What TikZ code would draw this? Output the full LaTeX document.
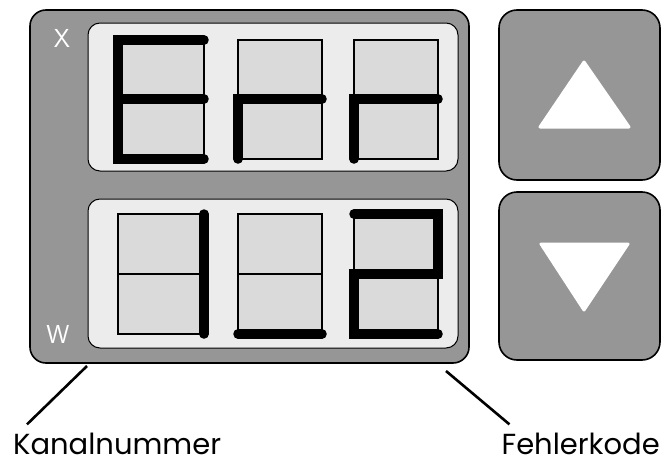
\documentclass[tikz,border=0pt]{standalone}
\usepackage{fontspec}
\usepackage{tikz}
\usetikzlibrary{positioning,calc}
\newfontfamily\labelfont{Poppins}
\definecolor{panelGray}{RGB}{150,150,150}
\definecolor{windowGray}{RGB}{236,236,236}
\definecolor{cellGray}{RGB}{218,218,218}

\begin{document}
\begin{tikzpicture}[x=1pt, y=-1pt,
  panel/.style={draw=black, line width=1.6pt, fill=panelGray, rounded corners=16pt},
  window/.style={draw=black, line width=1pt, fill=windowGray, rounded corners=12pt},
  cell/.style={draw=black, line width=1.1pt, fill=cellGray},
  seg/.style={line width=9.5pt, line cap=round},
  key/.style={draw=black, line width=1.6pt, fill=panelGray, rounded corners=18pt},
  arrowtri/.style={fill=white, draw=white, line width=3pt, line join=round},
  lead/.style={line width=2.6pt},
  caption/.style={font=\labelfont\fontsize{29}{29}\selectfont, inner sep=0pt},
  chan/.style={font=\sffamily\fontsize{26}{26}\selectfont, text=white, inner sep=0pt},
]
\useasboundingbox (0,0) rectangle (662,466);

% Display panel
\draw[panel] (30,10) rectangle (469,363);
\draw[window] (88,23) rectangle (458,171);
\draw[window] (88,199) rectangle (458,348);
\node[chan] (chx) at (62,38) {X};
\node[chan] (chw) at (58,334) {W};

% Digit cells
\foreach \xa/\xb in {118/204, 238/322, 354/438} {
  \draw[cell] (\xa,40) rectangle (\xb,99);
  \draw[cell] (\xa,99) rectangle (\xb,159);
  \draw[cell] (\xa,214) rectangle (\xb,274);
  \draw[cell] (\xa,274) rectangle (\xb,334);
}

% Upper row: Err
\draw[seg] (204,40) -- (118,40) -- (118,159) -- (204,159);
\draw[seg] (118,99) -- (204,99);
\draw[seg] (322,99) -- (238,99) -- (238,159);
\draw[seg] (438,99) -- (354,99) -- (354,159);

% Lower row: 12
\draw[seg] (204,214) -- (204,334);
\draw[seg] (238,334) -- (322,334);
\draw[seg] (354,214) -- (438,214) -- (438,274) -- (354,274) -- (354,334) -- (438,334);

% Keys
\draw[key] (499,10) rectangle (660,180);
\draw[key] (499,192) rectangle (660,360);
\draw[arrowtri] (584,62) -- (629,127) -- (540,127) -- cycle;
\draw[arrowtri] (541,244) -- (628,244) -- (584,310) -- cycle;

% Labels
\node[caption, anchor=base west] (kanal) at (13,454) {Kanalnummer};
\node[caption, anchor=base east] (fehler) at (660,454) {Fehlerkode};
\coordinate (kanalTip) at (87,366);
\coordinate (fehlerTip) at (446,371);
\draw[lead] (kanalTip) -- ($(kanal.north west)+(14,-8)$);
\draw[lead] (fehlerTip) -- ($(fehler.north west)+(8,-8)$);

\end{tikzpicture}
\end{document}
